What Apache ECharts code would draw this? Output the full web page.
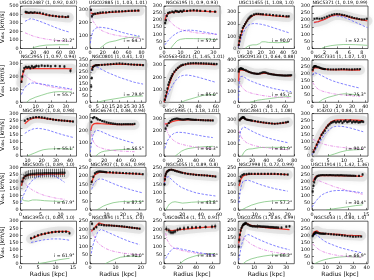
<!DOCTYPE html>
<html><head><meta charset="utf-8">
<script src="https://cdn.jsdelivr.net/npm/echarts@6/dist/echarts.min.js"></script>
<style>html,body{margin:0;padding:0;background:#fff}#c{width:374px;height:280px}</style>
</head><body><div id="c"></div><script>
const titles = ["UGC02487 (1, 0.92, 0.87)","UGC02885 (1, 1.03, 1.01)","NGC6195 (1, 0.9, 0.93)","UGC11455 (1, 1.08, 1.0)","NGC5371 (1, 0.19, 0.99)",
"NGC2955 (1, 0.97, 0.94)","NGC0801 (1, 0.41, 1.0)","ESO563-G021 (1, 1.45, 1.01)","UGC09133 (1, 0.64, 0.88)","NGC7331 (1, 1.07, 1.0)",
"NGC3992 (1, 0.8, 0.98)","NGC6674 (1, 0.84, 0.94)","NGC5985 (1, 1.18, 1.01)","NGC2841 (1, 1.1, 1.08)","IC4202 (1, 0.84, 1.0)",
"NGC5005 (1, 0.89, 1.0)","NGC5907 (1, 0.61, 0.99)","NGC5055 (1, 0.89, 0.8)","NGC2998 (1, 0.72, 0.99)","UGC11914 (1, 1.42, 1.36)",
"NGC3953 (1, 0.89, 1.0)","NGC0891 (1, 1.15, 1.0)","UGC06614 (1, 1.0, 0.91)","UGC03205 (1, 0.85, 0.99)","NGC5033 (1, 0.80, 1.0)"];
const inclinations = ["31.2","64.7","57.0","90.0","52.7","55.7","79.9","85.0","45.7","75.3","55.1","56.5","60.3","81.9","90.0","67.9","87.5","43.8","57.2","30.4","61.9","90.0","38.8","66.2","66.9"];
const xRange = [[0,87],[0,87],[0,34],[0,50],[0,9],[0,37],[0,38],[0,65],[0,72],[0,42],[5,44.5],[0,78],[0,70],[0,80],[0,17.5],[0,14],[0,34],[0,61],[0,34],[0,15.5],[0,16],[0,22],[0,70],[0,35],[0,41]];
const xTicks = [[0,20,40,60,80],[0,20,40,60,80],[0,10,20,30],[0,10,20,30,40,50],[0,2,4,6,8],
[0,10,20,30],[0,5,10,15,20,25,30,35],[0,20,40,60],[0,20,40,60],[0,10,20,30,40],
[10,20,30,40],[0,20,40,60],[0,20,40,60],[0,20,40,60,80],[0,5,10,15],
[0,5,10],[0,10,20,30],[0,20,40,60],[0,10,20,30],[0,5,10,15],
[0,5,10,15],[0,10,20],[0,20,40,60],[0,10,20,30],[0,10,20,30,40]];
const yRange = [[0,500],[0,330],[0,300],[0,350],[0,300],[0,330],[0,350],[0,340],[0,400],[0,300],[0,300],[0,330],[0,340],[0,350],[0,300],[0,300],[0,250],[0,250],[0,250],[0,300],[0,300],[0,250],[0,250],[0,250],[0,300]];
const T50_300 = [0,50,100,150,200,250,300], T50_250 = [0,50,100,150,200,250], T100_300 = [0,100,200,300];
const yTicks = [[0,100,200,300,400,500],T100_300,T50_300,T100_300,T50_300,
T100_300,[0,50,100,150,200,250,300,350],T100_300,[0,100,200,300,400],T50_300,
T50_300,T100_300,T100_300,T100_300,T50_300,
T50_300,T50_250,T50_250,T50_250,T50_300,
T50_300,T50_250,T50_250,T50_250,T50_300];

// observed points [r, v, err]
const obsData = [
[[8,430,15],[10,425,15],[13,420,12],[16,425,12],[19,420,12],[22,425,12],[26,420,12],[30,420,12],[35,410,12],[40,400,12],[45,390,12],[50,385,12],[55,380,12],[60,375,12],[65,375,12],[70,370,12],[74,375,15]],
[[1.5,300,10],[3,250,15],[5,265,10],[8,270,8],[12,275,8],[16,278,8],[20,280,8],[25,280,8],[30,283,8],[35,285,8],[40,287,8],[45,288,8],[50,289,8],[55,290,8],[60,292,8],[65,293,8],[70,294,8],[75,295,8]],
[[0.7,180,12],[1.2,200,12],[1.7,230,10],[2.5,250,10],[3.5,255,8],[5,260,8],[6,255,8],[7,265,8],[8,262,8],[9,258,8],[10,265,8],[11,260,8],[12,268,8],[14,265,8],[16,268,8],[18,270,8],[20,268,8],[22,266,8],[25,265,8],[28,262,8],[31,260,8]],
[[0.5,30,10],[1,60,10],[1.5,90,10],[2,110,10],[3,140,10],[4,170,8],[5,185,8],[6,200,8],[7,215,8],[8,230,8],[9,245,8],[10,255,8],[11,265,8],[12,270,8],[14,280,8],[16,285,8],[18,285,8],[20,283,8],[22,282,8],[25,280,8],[28,278,8],[31,275,8],[34,272,8],[37,270,8],[40,268,8],[43,265,8],[45,265,8]],
[[0.4,210,5],[0.8,212,5],[1.2,210,5],[1.6,212,5],[2,218,5],[2.4,225,5],[2.8,232,5],[3.2,238,5],[3.6,242,5],[4,243,5],[4.4,242,5],[4.8,238,5],[5.2,235,5],[5.6,230,5],[6,225,5],[6.4,220,5],[6.8,215,5],[7.2,212,5],[7.6,208,5],[8,205,5],[8.4,205,5],[8.8,210,6]],
[[0.7,160,10],[1.2,200,10],[1.8,240,10],[2.5,265,10],[3.5,275,10],[4.5,270,10],[5.5,275,10],[6.5,265,12],[7.5,280,12],[8.5,270,12],[9.5,275,12],[10.5,282,12],[12,280,12],[14,285,10],[16,282,10],[18,283,10],[20,280,10],[23,282,10],[26,280,10],[29,278,12],[33,245,15]],
[[0.8,130,15],[1.2,200,15],[1.6,270,12],[2,290,10],[3,300,10],[4,305,8],[5,305,8],[6,307,8],[8,308,8],[10,310,8],[12,312,8],[14,314,8],[16,316,8],[18,318,8],[20,320,8],[22,318,8],[24,316,8],[26,314,8],[28,312,8],[30,310,8],[32,309,8],[34,308,8],[36,306,8]],
[[1,20,15],[2,50,15],[3,80,12],[4,110,12],[5,140,12],[6,160,10],[7,180,10],[8,195,10],[9,210,10],[10,225,10],[12,245,10],[14,260,10],[16,275,10],[18,285,10],[20,295,10],[22,300,10],[25,305,10],[28,310,10],[31,312,10],[34,313,10],[37,313,10],[40,312,10],[43,312,10],[46,311,10],[49,310,10],[52,309,10],[55,308,10],[58,307,10],[61,306,10]],
[[0.5,290,10],[1,310,8],[2,315,8],[3,320,8],[4,318,8],[5,315,8],[6,312,8],[8,305,8],[10,300,8],[12,292,8],[14,285,8],[16,280,8],[18,275,8],[20,272,8],[22,270,8],[24,268,8],[26,268,8],[28,272,8],[30,278,8],[32,282,8],[34,282,8],[36,278,8],[38,272,8],[40,268,8],[42,265,8],[44,262,8],[46,260,8],[48,258,8],[50,256,8],[52,255,8],[54,254,8],[56,253,8],[58,252,8],[60,252,8],[62,252,8],[64,253,8],[66,254,8],[68,255,8]],
[[0.5,230,5],[1,245,5],[1.5,252,5],[2,255,5],[2.5,255,5],[3,253,5],[4,250,5],[5,247,5],[6,243,5],[7,240,5],[8,237,5],[9,235,5],[10,234,5],[12,233,5],[14,232,5],[16,232,5],[18,232,5],[20,233,5],[22,234,5],[24,234,5],[26,233,5],[28,232,5],[30,232,5],[32,233,5],[34,234,5],[36,234,5]],
[[8,250,8],[10,262,8],[12,268,8],[14,272,8],[16,275,8],[18,275,8],[20,273,8],[22,270,8],[24,265,8],[26,262,8],[28,258,8],[30,255,8],[32,253,8],[34,251,8],[36,250,8],[38,248,8],[40,246,8],[42,244,8]],
[[2,265,12],[4,295,10],[6,302,10],[9,295,10],[11,285,8],[14,280,8],[17,272,8],[20,268,8],[23,262,8],[26,258,8],[29,255,8],[32,252,8],[35,250,8],[38,248,8],[41,248,8],[44,247,8],[47,248,8],[50,248,8],[53,248,8],[56,248,8],[59,248,8],[62,250,8]],
[[2,220,15],[4,245,12],[6,265,10],[8,280,10],[10,290,8],[12,295,8],[14,298,8],[16,300,8],[18,298,8],[20,295,8],[22,293,8],[24,292,8],[26,293,8],[28,295,8],[30,296,8],[32,294,8],[34,292,8],[36,291,8],[38,290,8],[40,290,8],[43,289,8],[46,288,8],[49,287,8],[52,286,8],[55,286,8],[58,285,8],[61,285,8]],
[[2,295,8],[3,305,8],[4,310,8],[5,315,8],[6,318,8],[7,320,8],[8,318,8],[9,312,8],[10,305,8],[12,300,6],[14,298,6],[16,296,6],[18,294,6],[20,292,6],[24,288,6],[28,284,6],[32,280,6],[36,277,6],[40,274,6],[44,271,6],[48,268,6],[52,266,6],[56,268,6],[60,271,6],[64,274,6],[68,278,6],[71,282,6]],
[[0.5,30,10],[1,55,10],[1.5,80,10],[2,100,10],[2.5,125,10],[3,150,10],[3.5,165,10],[4,180,10],[4.5,200,10],[5,215,10],[5.5,225,10],[6,235,10],[6.5,240,10],[7,245,10],[7.5,238,10],[8,245,10],[8.5,240,10],[9,248,10],[9.5,235,10],[10,245,10],[10.5,250,10],[11,240,10],[11.5,245,10],[12,250,10],[12.5,238,10],[13,245,10],[13.5,240,10],[14,245,10],[14.5,238,10],[15,240,10],[15.5,245,10],[16,242,10]],
[[0.4,200,30],[0.8,225,30],[1.2,240,30],[1.6,245,30],[2,250,30],[2.5,252,30],[3,255,30],[3.5,255,30],[4,258,30],[4.5,258,30],[5,258,30],[5.5,258,30],[6,260,30],[6.5,260,30],[7,260,30],[7.5,260,30],[8,260,30],[8.5,260,30],[9,260,30],[9.5,260,30],[10,262,30],[10.5,262,30],[11,262,30]],
[[1,165,10],[2,195,8],[3,215,6],[4,222,6],[5,225,6],[6,226,6],[7,225,6],[8,224,6],[9,223,6],[10,222,6],[12,222,6],[14,220,6],[16,219,6],[18,218,6],[20,217,6],[22,216,6],[24,215,6],[26,214,6],[28,213,6],[30,212,6],[32,210,6]],
[[0.5,150,10],[1,180,10],[1.5,200,8],[2,212,8],[3,222,6],[4,228,6],[5,232,6],[6,235,6],[8,236,6],[10,234,6],[12,230,6],[14,227,6],[16,224,6],[18,221,6],[20,218,6],[23,215,6],[26,212,6],[29,210,6],[32,208,6],[35,206,6],[38,205,6],[41,204,6],[44,203,6],[47,202,6],[50,200,6],[53,198,6],[56,196,6]],
[[0.8,170,15],[1.5,195,10],[2.5,205,8],[3.5,210,8],[5,210,8],[6.5,212,8],[8,212,6],[10,212,6],[12,212,6],[14,212,6],[16,212,6],[18,212,6],[20,212,6],[22,212,6],[24,211,6],[26,210,6],[28,209,6],[30,208,6]],
[[0.2,130,15],[0.4,170,12],[0.6,195,10],[0.8,215,8],[1,225,8],[1.3,235,8],[1.6,240,8],[2,243,8],[2.5,245,6],[3,246,6],[3.5,245,6],[4,246,6],[4.5,245,6],[5,246,6],[5.5,245,6],[6,245,6],[6.5,244,6],[7,245,6],[7.5,244,6],[8,245,6],[8.5,244,6],[9,243,6],[9.5,243,6],[10,242,6],[10.5,242,6],[11,241,6],[11.5,241,6],[12,240,6],[13,240,8],[14,250,10]],
[[3,180,10],[4,190,10],[5,200,8],[6,208,8],[7,212,8],[8,218,8],[9,222,8],[10,225,8],[11,225,8],[12,225,8],[13,226,8],[14,215,10]],
[[0.8,235,10],[1.5,205,10],[2.5,215,8],[3.5,230,8],[4.5,228,6],[5.5,226,6],[6.5,225,6],[7.5,225,6],[8.5,224,6],[9.5,223,6],[10.5,222,6],[11.5,221,6],[12.5,220,6],[13.5,218,6],[14.5,216,6],[15.5,214,6],[16.5,212,6],[17.5,210,6],[18.5,208,6],[19.5,206,6]],
[[3,205,15],[6,195,15],[8,185,12],[10,183,12],[12,185,12],[14,190,12],[17,200,12],[20,205,12],[25,208,15],[30,212,10],[35,213,10],[40,214,10],[45,215,10],[52,216,10],[60,218,12],[64,220,15]],
[[0.3,100,15],[0.6,140,12],[1,170,10],[1.5,195,10],[2,210,8],[2.5,220,8],[3,228,8],[3.5,232,8],[4,235,10],[4.5,238,10],[5,236,10],[6,230,8],[7,225,8],[8,222,8],[9,220,8],[10,220,8],[11,219,8],[12,220,12],[13,220,8],[14,219,8],[15,218,8],[16,218,8],[17,217,8],[18,217,8],[19,216,8],[20,215,8],[21,215,8],[22,214,8],[23,213,8],[24,213,8],[25,212,8],[27,212,8],[30,218,8],[32,220,8]],
[[0.5,195,10],[1,205,8],[1.5,210,8],[2,215,8],[2.5,220,8],[3,220,8],[4,218,8],[5,215,6],[6,213,6],[7,212,6],[8,212,6],[9,211,6],[10,212,6],[12,210,6],[14,208,6],[16,206,6],[18,204,6],[20,203,6],[22,200,6],[24,198,6],[26,195,6],[28,193,6],[30,191,6],[32,191,6],[34,192,6],[36,192,6]]
];
// fitted total model (red)
const modelData = [
[[7,415],[12,420],[20,418],[30,410],[40,395],[50,385],[60,375],[70,368],[75,365]],
[[1,275],[4,265],[10,268],[20,275],[30,280],[40,283],[50,286],[60,290],[70,292],[77,293]],
[[0.5,200],[1.5,235],[3,250],[6,257],[10,260],[15,265],[20,265],[25,262],[32,258]],
[[0,20],[2,100],[4,160],[6,200],[8,230],[10,250],[13,270],[16,280],[20,280],[25,275],[30,270],[35,267],[40,262],[45,260]],
[[0.3,185],[1,190],[2,205],[3,228],[3.8,238],[4.5,237],[5.5,228],[6.5,215],[7.5,205],[8.5,198],[8.9,195]],
[[0.5,150],[1.5,220],[2.5,255],[4,262],[6,263],[10,262],[15,262],[20,262],[25,262],[30,261],[34,260]],
[[1,270],[2,300],[3,305],[5,308],[10,310],[15,313],[20,315],[25,312],[30,310],[36,307]],
[[0,0],[3,70],[6,140],[9,200],[12,240],[15,265],[18,285],[22,298],[27,305],[32,308],[40,308],[50,305],[60,300]],
[[0.3,200],[1,280],[2,305],[4,312],[8,300],[12,288],[18,275],[25,268],[30,270],[35,275],[40,268],[50,258],[60,252],[68,250]],
[[0.5,215],[1.5,245],[3,250],[5,243],[8,235],[12,230],[18,229],[24,229],[30,228],[36,228]],
[[8,228],[11,255],[14,268],[17,272],[20,268],[25,262],[30,256],[35,250],[40,246],[42,245]],
[[1,200],[3,240],[6,252],[10,255],[15,252],[20,250],[30,246],[40,244],[50,244],[62,244]],
[[1,255],[3,250],[6,262],[10,275],[15,283],[20,287],[30,290],[40,290],[50,288],[61,286]],
[[1,290],[3,305],[5,312],[8,310],[12,300],[20,290],[30,280],[40,272],[50,268],[60,270],[71,278]],
[[0.3,25],[1,60],[2,110],[3,155],[4,190],[5,220],[6,242],[7,252],[8,255],[10,256],[12,255],[14,253],[16,250]],
[[0.2,170],[0.6,215],[1,235],[2,245],[3,248],[5,250],[7,252],[9,253],[11,253]],
[[1,160],[2,190],[3,208],[4,218],[6,222],[10,220],[15,218],[20,215],[25,213],[30,210],[32,209]],
[[0.5,165],[1.5,205],[3,228],[5,238],[8,238],[12,232],[18,222],[25,213],[35,207],[45,203],[56,198]],
[[0.5,140],[1.5,180],[3,200],[5,207],[8,210],[12,211],[18,211],[24,210],[30,207]],
[[0.3,200],[1,235],[2,242],[4,243],[6,242],[8,241],[10,240],[12,238],[14,236]],
[[3,175],[5,198],[7,212],[9,222],[11,228],[13,228],[14,226]],
[[0.5,190],[1.5,205],[2.5,225],[3.5,240],[4.5,235],[6,228],[8,225],[10,222],[13,217],[16,212],[19.5,206]],
[[2,200],[5,198],[10,195],[15,197],[20,200],[30,205],[40,210],[50,214],[60,217],[64,218]],
[[0.3,120],[1,175],[2,210],[3,228],[4,238],[5,238],[6,232],[8,225],[12,218],[16,214],[20,210],[25,206],[30,202],[32,200]],
[[0.5,205],[1.5,225],[2.5,235],[3.5,232],[5,222],[7,215],[10,212],[15,209],[20,206],[25,202],[30,200],[36,198]]
];
// stellar disk (blue dashed)
const diskData = [
[[7,320],[10,340],[15,350],[20,345],[30,320],[40,290],[50,260],[60,230],[70,205],[75,195]],
[[0.5,40],[2,90],[5,140],[10,160],[15,165],[20,163],[30,155],[40,140],[50,125],[60,112],[70,102],[77,96]],
[[0.5,25],[2,50],[4,75],[6,95],[8,110],[10,120],[13,128],[16,130],[20,125],[25,115],[32,100]],
[[0,10],[2,70],[4,120],[6,160],[8,185],[10,198],[13,205],[16,205],[20,200],[25,190],[30,175],[35,160],[40,145],[45,130]],
[[0.3,180],[1,188],[2,205],[3,225],[3.7,232],[4.5,228],[5.5,215],[6.5,195],[7.5,175],[8.5,155],[8.9,148]],
[[0.5,60],[2,100],[4,130],[6,145],[8,150],[10,148],[15,140],[20,130],[25,120],[30,110],[34,103]],
[[1,260],[2,295],[3,300],[5,290],[8,270],[12,245],[16,225],[20,205],[25,185],[30,165],[36,150]],
[[0,0],[3,40],[6,85],[9,125],[12,160],[15,185],[18,205],[22,215],[27,218],[32,213],[40,200],[50,180],[60,160]],
[[0.3,20],[1,160],[2,240],[3,250],[5,245],[8,235],[12,215],[18,195],[25,175],[35,150],[45,130],[55,115],[68,100]],
[[0.5,190],[1.5,210],[3,212],[5,200],[8,185],[12,165],[16,150],[20,138],[25,125],[30,113],[36,100]],
[[8,160],[11,180],[14,192],[17,196],[20,193],[25,182],[30,165],[35,150],[40,137],[42,132]],
[[0.5,30],[2,100],[4,160],[7,195],[10,200],[14,195],[20,180],[30,155],[40,135],[50,118],[62,100]],
[[1,60],[4,120],[8,160],[12,180],[16,190],[20,190],[25,188],[30,182],[40,170],[50,158],[61,148]],
[[1,120],[3,200],[6,235],[9,238],[12,230],[18,210],[25,190],[35,165],[45,145],[55,130],[71,110]],
[[0,10],[1,40],[2,80],[3,120],[4,155],[5,180],[6,198],[7,208],[8,212],[10,208],[12,198],[14,185],[16,172]],
[[0,50],[1,120],[2,175],[3,210],[4,230],[5,242],[6,248],[7,250],[8,245],[9,232],[10,215],[11,195]],
[[1,120],[2,150],[4,175],[6,183],[8,180],[10,172],[14,155],[18,140],[22,127],[26,115],[32,100]],
[[0.5,150],[1.5,190],[3,200],[5,195],[8,180],[12,160],[18,135],[25,118],[35,100],[45,90],[56,82]],
[[0.3,40],[1,100],[2,150],[3,170],[4,178],[6,175],[9,165],[13,150],[18,135],[23,123],[30,110]],
[[0,20],[1,60],[2,90],[3,110],[4,122],[5,130],[6,135],[7,137],[8,137],[9,136],[10,134],[12,128],[14,120]],
[[3,150],[5,160],[7,170],[9,175],[11,175],[13,170],[14,165]],
[[0.5,60],[1,100],[2,150],[3,185],[4,200],[5,198],[7,185],[10,165],[13,145],[16,128],[19.5,112]],
[[2,30],[5,55],[8,75],[12,90],[16,92],[20,88],[30,78],[40,68],[50,60],[60,53],[64,51]],
[[0.3,20],[1,60],[2,110],[3,140],[4,160],[5,170],[6,172],[8,165],[10,155],[14,138],[18,122],[22,108],[26,96],[32,82]],
[[0.5,190],[1.5,210],[2.5,215],[4,200],[6,182],[9,160],[12,145],[16,130],[20,115],[25,102],[30,90],[36,78]]
];
// bulge / dark component (magenta dash-dot)
const bulgeData = [
[[7,185],[10,175],[15,160],[20,145],[30,125],[40,110],[50,100],[60,93],[70,90],[75,88]],
[[0.5,310],[2,260],[5,210],[10,175],[15,150],[20,135],[30,115],[40,103],[50,95],[60,88],[77,80]],
[[0.5,240],[1.5,225],[3,200],[5,175],[7,155],[10,135],[13,125],[16,118],[20,110],[25,105],[32,100]],
[],[],
[[0.5,180],[1.5,220],[2.5,225],[4,200],[6,180],[8,165],[10,155],[15,135],[20,120],[25,110],[30,102],[34,97]],
[],[],
[[0.3,220],[1,200],[2,180],[4,150],[6,130],[10,105],[15,90],[20,80],[30,65],[40,55],[55,48],[68,42]],
[[0.5,140],[1.5,125],[3,105],[5,90],[8,78],[12,68],[16,60],[20,55],[25,50],[30,46],[36,42]],
[],
[[0.5,220],[1.5,180],[3,140],[5,110],[8,85],[12,70],[20,55],[30,45],[40,40],[50,37],[62,34]],
[[1,270],[3,215],[5,180],[8,150],[12,125],[16,108],[20,98],[30,82],[40,72],[50,65],[61,60]],
[[1,210],[3,175],[5,150],[8,128],[12,110],[18,95],[25,83],[35,72],[45,65],[55,60],[71,52]],
[[0.3,120],[1,110],[2,100],[3,90],[4,82],[6,72],[8,65],[10,60],[12,55],[14,52],[16,50]],
[[0.3,210],[1,190],[2,160],[3,140],[4,125],[5,112],[6,102],[7,95],[8,88],[9,82],[10,78],[11,75]],
[],[],[],
[[0.3,220],[1,215],[2,205],[3,195],[4,185],[5,175],[6,165],[8,150],[10,135],[12,122],[14,110]],
[],
[[0.5,200],[1,180],[2,150],[3,125],[4,110],[6,90],[8,78],[10,70],[13,62],[16,57],[19.5,52]],
[[2,180],[4,140],[7,115],[10,100],[15,88],[20,80],[30,70],[40,62],[50,57],[64,52]],
[[0.3,100],[1,140],[2,160],[3,155],[4,145],[6,130],[8,115],[12,95],[16,82],[20,72],[26,62],[32,55]],
[[0.5,140],[1.5,130],[3,115],[5,100],[8,85],[12,72],[16,63],[20,57],[25,52],[30,48],[36,45]]
];
// gas (green)
const gasData = [
[[18,0],[22,15],[30,30],[40,40],[50,42],[60,45],[70,45],[75,45]],
[[15,0],[20,20],[25,40],[30,50],[40,60],[50,75],[60,85],[70,88],[77,90]],
[[4,0],[6,30],[8,55],[10,65],[13,70],[18,70],[25,68],[32,62]],
[[6,0],[8,15],[10,25],[13,30],[16,30],[19,40],[21,55],[24,55],[27,50],[30,50],[35,48],[40,50],[45,50]],
[[1.5,0],[2,10],[3,20],[4,25],[5,28],[6,28],[7,27],[8,25],[8.9,22]],
[[4,0],[6,20],[10,40],[14,55],[18,70],[22,80],[26,83],[30,82],[34,80]],
[[5,0],[10,15],[15,25],[20,35],[25,45],[30,50],[36,52]],
[[20,0],[25,15],[30,25],[35,35],[40,45],[45,55],[50,60],[55,62],[60,60]],
[[15,0],[20,10],[25,20],[30,25],[35,30],[40,35],[50,45],[60,52],[68,55]],
[[5,0],[8,20],[12,35],[16,45],[20,55],[24,60],[28,58],[32,55],[36,50]],
[[10,0],[12,10],[15,22],[18,35],[21,45],[25,50],[30,52],[35,52],[42,50]],
[[8,0],[12,20],[16,32],[20,38],[30,45],[40,50],[50,52],[62,52]],
[[14,0],[18,20],[22,40],[26,52],[30,60],[40,70],[50,75],[61,78]],
[[5,0],[8,30],[11,50],[15,58],[20,60],[25,65],[30,70],[40,72],[50,72],[60,72],[71,70]],
[[5,0],[7,15],[9,30],[11,40],[13,44],[15,46],[16,47]],
[[0.3,75],[1,65],[1.5,55],[2,62],[3,70],[4,70],[5,68],[6,65],[8,62],[10,60],[11,58]],
[[4,0],[6,10],[8,22],[10,30],[14,42],[18,48],[22,50],[26,50],[32,50]],
[[2,0],[4,20],[6,35],[9,45],[12,48],[15,45],[20,40],[25,42],[30,45],[40,48],[50,50],[56,50]],
[[2,0],[5,15],[8,28],[12,40],[16,48],[20,52],[25,55],[30,55]],
[[4,0],[6,8],[8,15],[10,22],[12,30],[14,35]],
[[5,0],[7,8],[9,18],[11,28],[13,35],[14,38]],
[[6,0],[8,15],[10,28],[12,38],[14,42],[16,44],[18,43],[19.5,40]],
[[20,0],[25,20],[30,32],[35,40],[40,47],[45,52],[50,56],[55,58],[64,60]],
[[3,0],[5,15],[8,28],[12,38],[16,45],[20,50],[25,52],[30,52],[32,52]],
[[2,0],[5,15],[8,25],[12,35],[16,42],[20,47],[25,50],[30,48],[36,45]]
];

const FONT = 'DejaVu Sans';
const colLeft = [20.5, 90, 164, 238.3, 312];
const rowTop = [6, 59.8, 113.6, 167.4, 221.2];
const W = 56, H = 42.5;
const grids = [], xAxes = [], yAxes = [], series = [], graphics = [];
for (let i = 0; i < 25; i++) {
  const c = i % 5, r = Math.floor(i / 5);
  grids.push({left: colLeft[c], top: rowTop[r], width: W, height: H, show: true, borderColor: '#000', borderWidth: 0.6, containLabel: false, outerBoundsMode: 'none'});
  xAxes.push({gridIndex: i, type: 'value', min: xRange[i][0], max: xRange[i][1],
    axisLine: {show: false}, splitLine: {show: false},
    axisTick: {inside: true, length: 2, customValues: xTicks[i], lineStyle: {color: '#000', width: 0.5}},
    axisLabel: {customValues: xTicks[i], fontSize: 4.8, margin: 2, color: '#000', fontFamily: FONT},
    name: r === 4 ? 'Radius [kpc]' : '', nameLocation: 'middle', nameGap: 8,
    nameTextStyle: {fontSize: 6, color: '#000', fontFamily: FONT}});
  yAxes.push({gridIndex: i, type: 'value', min: yRange[i][0], max: yRange[i][1],
    axisLine: {show: false}, splitLine: {show: false},
    axisTick: {inside: true, length: 2, customValues: yTicks[i], lineStyle: {color: '#000', width: 0.5}},
    axisLabel: {customValues: yTicks[i], fontSize: 4.8, margin: 2, color: '#000', fontFamily: FONT},
    name: c === 0 ? '{v|V}{s|obs}{v| [km/s]}' : '', nameLocation: 'middle', nameGap: 13, nameRotate: 90,
    nameTextStyle: {color: '#000', fontFamily: FONT, rich: {v: {fontSize: 6, fontFamily: FONT, color: '#000'}, s: {fontSize: 4, fontFamily: FONT, color: '#000', padding: [3, 0, 0, 0]}}}});
  const ax = {xAxisIndex: i, yAxisIndex: i};
  series.push(Object.assign({type: 'line', data: modelData[i], symbol: 'none', silent: true, z: 1,
    lineStyle: {width: 10, color: 'rgba(185,185,185,0.3)', shadowBlur: 5, shadowColor: 'rgba(170,170,170,0.55)', cap: 'round', join: 'round'}}, ax));
  series.push(Object.assign({type: 'line', data: gasData[i], symbol: 'none', silent: true, z: 2,
    lineStyle: {width: 0.7, color: '#6fbf6f'}}, ax));
  series.push(Object.assign({type: 'line', data: bulgeData[i], symbol: 'none', silent: true, z: 2,
    lineStyle: {width: 0.7, color: '#e070e0', type: [3, 1.2, 0.8, 1.2]}}, ax));
  series.push(Object.assign({type: 'line', data: diskData[i], symbol: 'none', silent: true, z: 2,
    lineStyle: {width: 0.7, color: '#4b4bff', type: [2.5, 1.5]}}, ax));
  series.push(Object.assign({type: 'line', data: modelData[i], symbol: 'none', silent: true, z: 3,
    lineStyle: {width: 1.3, color: '#ee3a30'}}, ax));
  series.push(Object.assign({type: 'custom', data: obsData[i], silent: true, z: 4, clip: true,
    encode: {x: 0, y: 1},
    renderItem: function (params, api) {
      const x = api.value(0), y = api.value(1), e = api.value(2);
      const p1 = api.coord([x, y - e]), p2 = api.coord([x, y + e]);
      return {type: 'line', shape: {x1: p1[0], y1: p1[1], x2: p2[0], y2: p2[1]}, style: {stroke: '#000', lineWidth: 0.5}};
    }}, ax));
  series.push(Object.assign({type: 'scatter', data: obsData[i].map(d => [d[0], d[1]]), symbol: 'rect', symbolSize: 2.1, silent: true, z: 5,
    itemStyle: {color: '#000'}}, ax));
  graphics.push({type: 'text', x: colLeft[c] + W / 2, y: rowTop[r] - 5.5, style: {text: titles[i], textAlign: 'center', fontSize: 4.5, fontFamily: FONT, fill: '#000'}});
  graphics.push({type: 'text', x: colLeft[c] + W - 2, y: rowTop[r] + H - 10, style: {text: 'i = ' + inclinations[i] + '°', textAlign: 'right', fontSize: 4.6, fontFamily: FONT, fill: '#000'}, z: 10});
}
const chart = echarts.init(document.getElementById('c'), null, {renderer: 'canvas'});
chart.setOption({animation: false, backgroundColor: '#fff', grid: grids, xAxis: xAxes, yAxis: yAxes, series: series, graphic: graphics});
</script></body></html>
